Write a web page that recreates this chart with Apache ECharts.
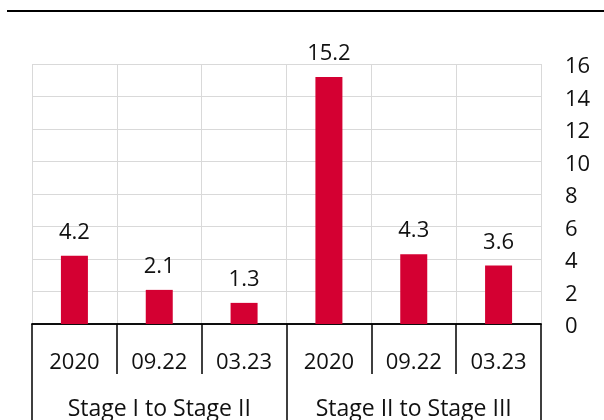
<!DOCTYPE html>
<html>
<head>
<meta charset="utf-8">
<script src="https://cdn.jsdelivr.net/npm/echarts@6/dist/echarts.min.js"></script>
<style>
  html, body { margin: 0; padding: 0; background: #fff; }
  #main { width: 604px; height: 420px; }
</style>
</head>
<body>
<div id="main"></div>
<script>
// periods (first row) and stage groups (second row)
var periods = ["2020", "09.22", "03.23", "2020", "09.22", "03.23"];
var stages = ["Stage I to Stage II", "Stage II to Stage III"];
var values = [4.2, 2.1, 1.3, 15.2, 4.3, 3.6];

var FONT = "Open Sans";
var myChart = echarts.init(document.getElementById("main"));

var option = {
  animation: false,
  textStyle: { fontFamily: FONT },
  grid: { left: 32, right: 63, top: 64, bottom: 96, containLabel: false, outerBoundsMode: "none" },
  graphic: [
    {
      type: "line",
      shape: { x1: 7, y1: 11, x2: 604, y2: 11 },
      style: { stroke: "#000", lineWidth: 2 }
    }
  ],
  xAxis: [
    {
      type: "category",
      data: periods,
      position: "bottom",
      axisLine: { show: true, lineStyle: { color: "#000", width: 1.5 } },
      axisTick: { show: true, interval: 0, length: 50, lineStyle: { color: "#000", width: 1.5 } },
      axisLabel: { interval: 0, margin: 28, fontSize: 22, color: "#111", fontFamily: FONT },
      splitLine: { show: true, interval: 0, lineStyle: { color: "#d9d9d9", width: 1 } }
    },
    {
      type: "category",
      data: stages,
      position: "bottom",
      axisLine: { show: true, lineStyle: { color: "#000", width: 1.5 } },
      axisTick: { show: true, interval: 0, length: 110, lineStyle: { color: "#000", width: 1.5 } },
      axisLabel: { interval: 0, margin: 74, fontSize: 23, color: "#111", fontFamily: FONT },
      splitLine: { show: false }
    }
  ],
  yAxis: {
    type: "value",
    position: "right",
    min: 0,
    max: 16,
    interval: 2,
    axisLine: { show: false },
    axisTick: { show: false },
    axisLabel: { margin: 24, fontSize: 22, color: "#111", fontFamily: FONT, verticalAlign: "top", lineHeight: 6 },
    splitLine: { lineStyle: { color: "#d9d9d9", width: 1 } }
  },
  series: [
    {
      type: "bar",
      xAxisIndex: 0,
      data: values,
      barWidth: 27,
      itemStyle: { color: "#d40032" },
      label: {
        show: true,
        position: "top",
        distance: 12,
        fontSize: 22,
        color: "#111",
        fontFamily: FONT
      }
    }
  ]
};

myChart.setOption(option);
</script>
</body>
</html>
